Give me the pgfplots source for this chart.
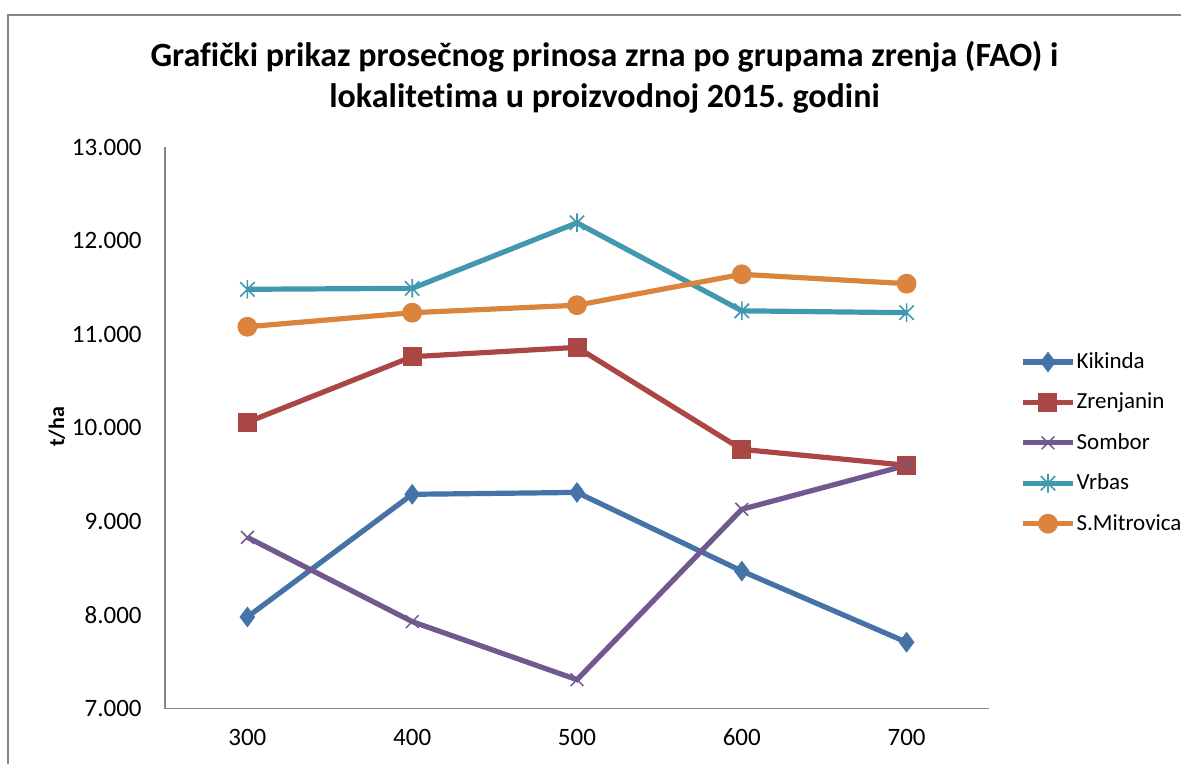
\documentclass[border=0pt]{standalone}
\usepackage{pgfplots}
\pgfplotsset{compat=1.18}
\usepackage{fontspec}
\setmainfont{Carlito}[Ligatures={NoCommon}]
\frenchspacing
\definecolor{cK}{HTML}{4572A7}
\definecolor{cZ}{HTML}{AA4643}
\definecolor{cS}{HTML}{71588F}
\definecolor{cV}{HTML}{4198AF}
\definecolor{cM}{HTML}{DB843D}
\definecolor{axgray}{HTML}{868686}
\pgfdeclareplotmark{xstar}{%
  \pgfpathmoveto{\pgfqpoint{-\pgfplotmarksize}{-\pgfplotmarksize}}%
  \pgfpathlineto{\pgfqpoint{\pgfplotmarksize}{\pgfplotmarksize}}%
  \pgfpathmoveto{\pgfqpoint{-\pgfplotmarksize}{\pgfplotmarksize}}%
  \pgfpathlineto{\pgfqpoint{\pgfplotmarksize}{-\pgfplotmarksize}}%
  \pgfpathmoveto{\pgfqpoint{0pt}{-1.3\pgfplotmarksize}}%
  \pgfpathlineto{\pgfqpoint{0pt}{1.3\pgfplotmarksize}}%
  \pgfusepathqstroke}
\begin{document}
\begin{tikzpicture}[x=0.5pt,y=0.5pt]
\useasboundingbox (0,0) rectangle (1181,764);
\draw[axgray,line width=0.75pt] (1200,749) -- (8,749) -- (8,-40);
\node[font=\fontsize{17}{20.5}\selectfont\bfseries,align=center] at (604.5,686.5)
  {Grafički prikaz prosečnog prinosa zrna po grupama zrenja (FAO) i\\lokalitetima u proizvodnoj 2015. godini};
\node[font=\fontsize{11}{13}\selectfont\bfseries,rotate=90] at (57,337) {t/ha};
\coordinate (A) at (165,55.3);
\begin{axis}[
  at={(A)}, anchor=south west,
  scale only axis, width=412pt, height=280.85pt,
  xmin=-0.5, xmax=4.5, ymin=7, ymax=13,
  xtick={0,1,2,3,4}, xticklabels={300,400,500,600,700},
  ytick={7,8,9,10,11,12,13},
  yticklabels={7.000,8.000,9.000,10.000,11.000,12.000,13.000},
  major tick length=0pt,
  axis x line*=bottom, axis y line*=left,
  axis line style={axgray,line width=0.75pt,-},
  ticklabel style={font=\fontsize{12.5}{14}\selectfont},
  yticklabel style={inner xsep=0pt,xshift=-11.5pt},
  xticklabel style={inner ysep=0pt,yshift=-10pt},
  clip=false,
  every axis plot/.append style={line width=2.6pt},
  legend style={at={(1.0376,0.649)},anchor=north west,draw=none,fill=none,
    font=\fontsize{11.5}{14}\selectfont,row sep=6.75pt,inner xsep=0pt,
    nodes={inner xsep=0.5pt}},
  legend cell align=left,
  legend image code/.code={\draw[mark repeat=2,mark phase=2] plot coordinates {(0pt,0pt)(12.5pt,0pt)(25pt,0pt)};},
]
\addplot[cK, mark=diamond*, mark size=4.8pt, mark options={fill=cK,line width=0.5pt}]
  coordinates {(0,7.98)(1,9.29)(2,9.31)(3,8.47)(4,7.71)};
\addlegendentry{Kikinda}
\addplot[cZ, mark=square*, mark size=4.5pt, mark options={fill=cZ,line width=0.5pt}]
  coordinates {(0,10.06)(1,10.76)(2,10.86)(3,9.77)(4,9.60)};
\addlegendentry{Zrenjanin}
\addplot[cS, mark=x, mark size=4.5pt, mark options={line width=0.75pt}]
  coordinates {(0,8.83)(1,7.93)(2,7.31)(3,9.13)(4,9.60)};
\addlegendentry{Sombor}
\addplot[cV, mark=xstar, mark size=3.6pt, mark options={line width=0.8pt}]
  coordinates {(0,11.48)(1,11.49)(2,12.19)(3,11.25)(4,11.23)};
\addlegendentry{Vrbas}
\addplot[cM, mark=*, mark size=4.7pt, mark options={fill=cM,line width=0.5pt}]
  coordinates {(0,11.08)(1,11.23)(2,11.31)(3,11.64)(4,11.54)};
\addlegendentry{S.Mitrovica}
\end{axis}
\end{tikzpicture}
\end{document}
